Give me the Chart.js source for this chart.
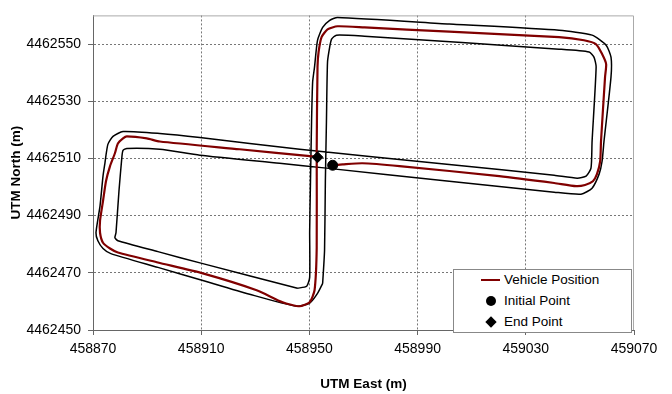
<!DOCTYPE html>
<html lang="en">
<head>
  <meta charset="UTF-8" />
  <title>Vehicle Position - UTM</title>
  <script src="https://cdn.jsdelivr.net/npm/chart.js"></script>
  <style>
    body {
      margin: 0;
      background: #fff;
      font-family: "Liberation Sans", Arial, sans-serif;
    }

    .wrap {
      position: relative;
      width: 672px;
      height: 394px;
    }

    .legend {
      position: absolute;
      left: 453px;
      top: 269px;
      width: 177px;
      height: 62px;
      border: 1px solid #888;
      background: #fff;
      font-size: 13.5px;
      color: #000;
    }

    .row {
      position: absolute;
      left: 0;
      width: 177px;
      height: 20px;
      line-height: 20px;
    }

    .row span.txt {
      position: absolute;
      left: 50px;
      white-space: nowrap;
    }

    .sym-line {
      position: absolute;
      left: 27px;
      top: 9px;
      width: 19px;
      height: 2px;
      background: #800000;
    }

    .sym-dot {
      position: absolute;
      left: 32px;
      top: 5px;
      width: 10px;
      height: 10px;
      border-radius: 50%;
      background: #000;
    }

    .sym-diamond {
      position: absolute;
      left: 33px;
      top: 6px;
      width: 8px;
      height: 8px;
      background: #000;
      transform: rotate(45deg);
    }
  </style>
</head>
<body>
  <div class="wrap">
    <canvas id="track"></canvas>
    <div class="legend">
      <div class="row" style="top:0px"><div class="sym-line"></div><span class="txt">Vehicle Position</span></div>
      <div class="row" style="top:21px"><div class="sym-dot"></div><span class="txt">Initial Point</span></div>
      <div class="row" style="top:42px"><div class="sym-diamond"></div><span class="txt">End Point</span></div>
    </div>
  </div>

  <script>
    // axis ticks
    const xTicks = [458870, 458910, 458950, 458990, 459030, 459070];
    const yTicks = [4462450, 4462470, 4462490, 4462510, 4462530, 4462550];
    const yMax = 4462560;

    // road edge A (outer of right loop, inner of left loop)
    const edgeAEast = [458945.6, 458949.0, 458950.1, 458950.1, 458950.4, 458950.8, 458951.2, 458951.9, 458953.0, 458954.9,
      458957.5, 458960.4, 459001.7, 459042.3, 459054.5, 459059.7, 459061.5, 459061.5, 459058.9, 459058.2,
      459057.1, 459054.5, 459050.4, 459040.5, 459001.7, 458956.3, 458939.0, 458909.5, 458894.7, 458882.5,
      458881.1, 458880.7, 458879.6, 458878.5, 458878.1, 458879.2, 458894.0, 458910.6, 458945.6];
    const edgeANorth = [4462464.6, 4462465.3, 4462468.4, 4462484.7, 4462502.0, 4462522.9, 4462536.7, 4462542.0, 4462551.3, 4462555.8,
      4462558.3, 4462559.3, 4462557.0, 4462554.8, 4462553.1, 4462549.6, 4462545.4, 4462538.5, 4462515.9, 4462509.0,
      4462504.5, 4462499.6, 4462497.5, 4462498.2, 4462502.0, 4462506.6, 4462508.3, 4462511.1, 4462513.2, 4462513.5,
      4462512.8, 4462510.7, 4462498.6, 4462484.0, 4462482.3, 4462481.2, 4462477.4, 4462473.2, 4462464.6];

    // road edge B (inner of right loop, outer of left loop)
    const edgeBEast = [458954.9, 458955.6, 458955.9, 458956.3, 458956.7, 458957.5, 458958.2, 458960.0, 458970.4, 459042.3,
      459053.4, 459055.2, 459056.0, 459054.5, 459054.1, 459052.3, 459049.0, 459040.5, 459001.7, 458946.4,
      458909.5, 458894.7, 458881.1, 458877.4, 458875.5, 458874.4, 458873.7, 458872.6, 458871.1, 458871.8,
      458873.7, 458876.6, 458894.0, 458910.6, 458927.9, 458945.3, 458950.1, 458953.0, 458954.9];
    const edgeBNorth = [4462466.3, 4462477.8, 4462502.0, 4462522.9, 4462543.7, 4462548.9, 4462551.7, 4462553.1, 4462552.7, 4462548.2,
      4462547.2, 4462545.4, 4462542.0, 4462515.9, 4462506.6, 4462503.8, 4462503.1, 4462504.1, 4462507.9, 4462513.2,
      4462517.3, 4462518.7, 4462519.4, 4462517.7, 4462514.9, 4462508.3, 4462503.8, 4462493.4, 4462484.0, 4462481.2,
      4462478.5, 4462476.7, 4462471.9, 4462467.3, 4462462.5, 4462458.3, 4462459.4, 4462462.8, 4462466.3];

    // vehicle position
    const vehEast = [458958.6, 458962.3, 458969.6, 458983.3, 459020.2, 459040.5, 459048.6, 459051.9, 459054.8, 459056.3,
      459057.5, 459057.8, 459059.3, 459059.7, 459058.2, 459056.0, 459051.5, 459042.3, 459001.7, 458970.4,
      458960.4, 458956.7, 458954.5, 458953.4, 458953.0, 458952.7, 458952.7, 458951.9, 458950.1, 458946.4,
      458940.1, 458930.5, 458910.6, 458894.0, 458879.2, 458876.3, 458873.7, 458872.6, 458872.6, 458873.7,
      458874.8, 458876.3, 458878.1, 458879.2, 458881.1, 458882.5, 458889.9, 458894.7, 458924.2, 458951.2,
      458953.0];
    const vehNorth = [4462507.6, 4462507.9, 4462508.3, 4462507.3, 4462503.8, 4462501.4, 4462500.3, 4462500.7, 4462502.0, 4462504.5,
      4462509.0, 4462515.9, 4462538.5, 4462543.0, 4462546.5, 4462549.9, 4462551.3, 4462552.4, 4462554.3, 4462555.8,
      4462556.2, 4462555.1, 4462552.4, 4462547.2, 4462542.0, 4462512.5, 4462478.8, 4462463.9, 4462459.7, 4462458.3,
      4462459.7, 4462463.9, 4462469.8, 4462473.6, 4462477.1, 4462478.5, 4462480.5, 4462484.0, 4462488.2, 4462495.1,
      4462502.0, 4462507.3, 4462511.8, 4462515.2, 4462517.0, 4462517.7, 4462517.0, 4462515.9, 4462513.2, 4462510.7,
      4462510.4];

    const initEast = [458958.6];
    const initNorth = [4462507.6];
    const endEast = [458953.0];
    const endNorth = [4462510.4];

    function toPts(xs, ys) {
      return xs.map((x, i) => ({ x: x, y: ys[i] }));
    }

    Chart.defaults.font.family = '"Liberation Sans", Arial, sans-serif';
    Chart.defaults.color = '#000';

    // light grey frame on top and right of the plot
    const framePlugin = {
      id: 'frame',
      beforeDatasetsDraw(chart) {
        const a = chart.chartArea;
        const ctx = chart.ctx;
        ctx.save();
        ctx.strokeStyle = '#aaa';
        ctx.lineWidth = 1;
        ctx.beginPath();
        ctx.moveTo(a.left, a.top + 0.5);
        ctx.lineTo(a.right - 0.5, a.top + 0.5);
        ctx.lineTo(a.right - 0.5, a.bottom);
        ctx.stroke();
        ctx.restore();
      }
    };

    const lineStyle = {
      showLine: true,
      pointRadius: 0,
      borderColor: '#000',
      borderWidth: 1.5,
      tension: 0.2,
      fill: false
    };

    new Chart(document.getElementById('track'), {
      type: 'scatter',
      data: {
        datasets: [
          { label: 'End Point', data: toPts(endEast, endNorth), pointStyle: 'rectRot', pointRadius: 5.5, backgroundColor: '#000', borderColor: '#000' },
          { label: 'Initial Point', data: toPts(initEast, initNorth), pointStyle: 'circle', pointRadius: 5, backgroundColor: '#000', borderColor: '#000' },
          { label: 'Vehicle Position', data: toPts(vehEast, vehNorth), showLine: true, pointRadius: 0, borderColor: '#800000', borderWidth: 2.2, tension: 0.2, fill: false },
          Object.assign({ label: 'edge A', data: toPts(edgeAEast, edgeANorth) }, lineStyle),
          Object.assign({ label: 'edge B', data: toPts(edgeBEast, edgeBNorth) }, lineStyle)
        ]
      },
      options: {
        responsive: true,
        maintainAspectRatio: false,
        animation: false,
        events: [],
        layout: { padding: { top: 13, right: 38, left: 0, bottom: 0 } },
        plugins: {
          legend: { display: false },
          tooltip: { enabled: false }
        },
        scales: {
          x: {
            type: 'linear',
            min: xTicks[0],
            max: xTicks[xTicks.length - 1],
            afterBuildTicks: s => { s.ticks = xTicks.map(v => ({ value: v })); },
            afterFit: s => { s.height = 64; },
            ticks: { callback: v => String(v), font: { size: 14 }, color: '#000', padding: 6, maxRotation: 0, autoSkip: false },
            grid: {
              color: c => (c.tick && (c.tick.value === xTicks[0] || c.tick.value === xTicks[xTicks.length - 1])) ? 'rgba(0,0,0,0)' : '#777',
              tickLength: 5,
              tickColor: '#666',
              tickBorderDash: []
            },
            border: { color: '#666', dash: [2, 2] },
            title: { display: true, text: 'UTM East (m)', font: { size: 13.5, weight: 'bold' }, color: '#000', padding: { top: 0, bottom: 2 } }
          },
          y: {
            type: 'linear',
            min: yTicks[0],
            max: yMax,
            afterBuildTicks: s => { s.ticks = yTicks.map(v => ({ value: v })); },
            afterFit: s => { s.width = 93; },
            ticks: { callback: v => String(v), font: { size: 14 }, color: '#000', padding: 7, autoSkip: false },
            grid: {
              color: c => (c.tick && c.tick.value === yTicks[0]) ? 'rgba(0,0,0,0)' : '#777',
              tickLength: 5,
              tickColor: '#666',
              tickBorderDash: []
            },
            border: { color: '#666', dash: [2, 2] },
            title: { display: true, text: 'UTM North (m)', font: { size: 13.5, weight: 'bold' }, color: '#000', padding: { top: 8, bottom: 0 } }
          }
        }
      },
      plugins: [framePlugin]
    });
  </script>
</body>
</html>
